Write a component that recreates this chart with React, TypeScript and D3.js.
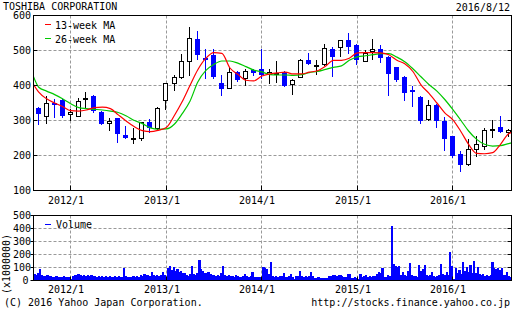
import React from 'react';
import * as d3 from 'd3';

const W = 523;
const H = 310;
const FONT = '"DejaVu Sans Mono", monospace';

const title = 'TOSHIBA CORPORATION';
const asOf = '2016/8/12';
const copyright = '(C) 2016 Yahoo Japan Corporation.';
const source = 'http://stocks.finance.yahoo.co.jp';
const legendMA13 = '13-week MA';
const legendMA26 = '26-week MA';
const legendVolume = 'Volume';
const volumeUnit = '(x1000000)';

const priceTicks = [100, 200, 300, 400, 500, 600];
const volumeTicks = [0, 100, 200, 300, 400, 500];
const yearLabels = ['2012/1', '2013/1', '2014/1', '2015/1', '2016/1'];

// Monthly candles, Sep 2011 .. Aug 2016
const candleOpen = [335, 311, 350, 360, 316, 311, 360, 369, 325, 291, 306, 260, 249, 248, 295, 277, 355, 405, 422, 467,
  534, 480, 487, 408, 390, 439, 419, 443, 446, 431, 435, 438, 401, 422, 474, 457, 460, 503, 506, 529,
  517, 468, 496, 505, 481, 452, 424, 387, 367, 301, 343, 300, 255, 203, 172, 217, 225, 271, 281, 265];
const candleClose = [318, 349, 344, 313, 324, 355, 363, 327, 291, 300, 262, 250, 250, 296, 280, 336, 406, 425, 471, 536,
  487, 475, 424, 391, 439, 415, 441, 437, 429, 439, 437, 399, 417, 474, 462, 459, 508, 482, 529, 511,
  472, 493, 503, 479, 433, 417, 378, 382, 298, 343, 298, 248, 198, 172, 220, 234, 274, 277, 267, 274];
const candleHigh = [338, 371, 362, 362, 334, 365, 382, 372, 327, 308, 308, 284, 279, 297, 303, 338, 408, 431, 489, 568,
  557, 505, 505, 431, 452, 441, 446, 448, 505, 446, 471, 441, 420, 476, 493, 474, 520, 511, 531, 549,
  520, 500, 534, 517, 483, 454, 427, 400, 370, 360, 346, 310, 257, 212, 248, 255, 278, 301, 312, 276];
const candleLow = [287, 291, 306, 307, 300, 309, 333, 322, 287, 269, 236, 248, 233, 241, 263, 271, 329, 384, 420, 427,
  472, 419, 420, 371, 389, 410, 400, 427, 419, 405, 408, 396, 374, 421, 458, 431, 457, 424, 481, 491,
  458, 466, 474, 465, 371, 410, 357, 338, 290, 298, 278, 212, 192, 152, 170, 195, 215, 251, 264, 253];

// Moving averages: 2011/8/12, then each month start Sep 2011 .. Aug 2016, then 2016/8/12
const ma13 = [403, 381, 362, 350, 340, 328, 327, 330, 337, 338, 334, 316, 298, 282, 271, 268, 272, 280, 315, 352, 400,
  445, 478, 494, 492, 450, 432, 415, 413, 427, 433, 436, 438, 433, 433, 438, 442, 455, 472, 472, 478,
  493, 494, 494, 493, 488, 472, 462, 440, 402, 378, 350, 322, 302, 268, 232, 206, 205, 208, 232, 262, 266];
const ma26 = [425, 395, 384, 374, 362, 348, 337, 334, 332, 330, 327, 323, 313, 300, 291, 279, 275, 276, 290, 318, 355,
  410, 443, 460, 470, 470, 464, 454, 444, 439, 431, 430, 430, 429, 431, 437, 440, 446, 452, 456, 472,
  482, 485, 488, 491, 491, 481, 468, 448, 425, 403, 384, 360, 331, 300, 270, 246, 232, 227, 228, 234, 236];

// Weekly volume (x1,000,000) from 2011/8/12
const weeklyVolume = [50, 45, 55, 88, 42, 38, 35, 40, 36, 33,
  30, 28, 32, 27, 30, 26, 34, 28, 25, 30,
  8, 38, 45, 40, 48, 42, 38, 44, 35, 40,
  36, 42, 34, 38, 30, 33, 28, 36, 30, 34,
  28, 32, 26, 30, 34, 28, 31, 27, 30, 95,
  35, 28, 30, 26, 32, 28, 33, 30, 42, 38,
  48, 40, 45, 38, 65, 40, 36, 42, 38, 45,
  65, 40, 12, 95, 115, 80, 105, 70, 85, 65,
  75, 55, 60, 45, 38, 50, 115, 48, 42, 55,
  155, 90, 70, 60, 58, 65, 48, 40, 45, 36,
  42, 38, 60, 108, 45, 35, 40, 32, 36, 30,
  42, 38, 30, 28, 35, 50, 32, 28, 34, 62,
  30, 25, 28, 24, 10, 105, 100, 92, 50, 140,
  36, 30, 34, 28, 32, 36, 58, 30, 28, 32,
  50, 30, 12, 32, 34, 75, 36, 30, 34, 28,
  38, 68, 32, 22, 20, 24, 18, 22, 16, 20,
  22, 38, 34, 42, 46, 36, 40, 44, 32, 26,
  28, 50, 48, 22, 18, 24, 20, 8, 48, 28,
  34, 44, 30, 38, 28, 32, 36, 50, 68, 55,
  95, 30, 28, 42, 34, 422, 125, 110, 104, 112,
  45, 65, 40, 35, 70, 135, 40, 32, 36, 30,
  122, 75, 90, 122, 40, 35, 44, 62, 36, 30,
  34, 45, 128, 48, 42, 62, 45, 218, 115, 15,
  95, 55, 78, 50, 145, 70, 104, 65, 117, 60,
  150, 55, 104, 48, 40, 52, 36, 44, 38, 42,
  143, 95, 85, 100, 80, 98, 45, 40, 62, 35,
  28];

const GRID = '#999999';
const BLUE = '#0000ff';
const RED = '#ff0000';
const GREEN = '#00c800';

export default function App() {
  const start = new Date(2011, 7, 12);
  const end = new Date(2016, 7, 12);
  const left = 33.5;
  const right = 511.5;
  const x = d3.scaleTime().domain([start, end]).range([left, right]);
  const yP = d3.scaleLinear().domain([100, 600]).range([190.5, 15.5]);
  const yV = d3.scaleLinear().domain([0, 500]).range([280.5, 215.5]);

  const months = d3.timeMonth.range(new Date(2011, 8, 1), new Date(2016, 8, 1));
  const maDates = [start, ...months, end];
  const years = yearLabels.map((s) => {
    const [yy, mm] = s.split('/').map(Number);
    return new Date(yy, mm - 1, 1);
  });
  const gx = (d: Date) => Math.floor(x(d)) + 0.5;

  const maLine = d3
    .line<number>()
    .x((_, i) => x(maDates[i]))
    .y((d) => yP(d))
    .curve(d3.curveMonotoneX);

  const pTop = yP(600);
  const pBot = yP(100);
  const vTop = yV(500);
  const vBot = yV(0);

  const textStyle = { fontFamily: FONT, fontSize: 10, fill: '#000' } as const;

  return (
    <svg
      width={W}
      height={H}
      viewBox={`0 0 ${W} ${H}`}
      style={{ position: 'absolute', left: 0, top: 0, background: '#fff' }}
    >
      <defs>
        <clipPath id="pclip">
          <rect x={left} y={pTop} width={right - left} height={pBot - pTop} />
        </clipPath>
        <clipPath id="vclip">
          <rect x={left} y={vTop} width={right - left} height={vBot - vTop} />
        </clipPath>
      </defs>
      <rect x={0} y={0} width={W} height={H} fill="#fff" />

      <text x={3} y={10} style={textStyle}>{title}</text>
      <text x={510} y={10.5} textAnchor="end" style={textStyle}>{asOf}</text>

      {/* ===== price panel ===== */}
      <g>
        {priceTicks.filter((t) => t > 100 && t < 600).map((t) => (
          <line key={'pg' + t} x1={left} x2={right} y1={yP(t)} y2={yP(t)} stroke={GRID} strokeDasharray="3,2" />
        ))}
        {years.map((d, i) => (
          <line key={'pyg' + i} x1={gx(d)} x2={gx(d)} y1={pTop} y2={pBot} stroke={GRID} strokeDasharray="3,2" />
        ))}
      </g>

      <g clipPath="url(#pclip)" shapeRendering="crispEdges">
        {months.map((m, i) => {
          const o = candleOpen[i];
          const c = candleClose[i];
          const up = c >= o;
          const cx = Math.round(x(m)) - 1;
          const top = Math.round(yP(Math.max(o, c)));
          const bot = Math.max(top + 2, Math.round(yP(Math.min(o, c))));
          const col = up ? '#000' : BLUE;
          return (
            <g key={'c' + i}>
              <line
                x1={cx + 0.5}
                x2={cx + 0.5}
                y1={Math.round(yP(candleHigh[i]))}
                y2={Math.round(yP(candleLow[i]))}
                stroke={col}
                strokeWidth={1}
              />
              {up ? (
                <rect x={cx - 1.5} y={top + 0.5} width={4} height={bot - top - 1} fill="#fff" stroke="#000" strokeWidth={1} />
              ) : (
                <rect x={cx - 2} y={top} width={5} height={bot - top} fill={BLUE} />
              )}
            </g>
          );
        })}
      </g>

      <g clipPath="url(#pclip)">
        <path d={maLine(ma26) || ''} fill="none" stroke={GREEN} strokeWidth={1.2} />
        <path d={maLine(ma13) || ''} fill="none" stroke={RED} strokeWidth={1.2} />
      </g>

      {/* legend */}
      <line x1={45} x2={51} y1={24.5} y2={24.5} stroke={RED} strokeWidth={1} />
      <text x={55} y={29} style={textStyle}>{legendMA13}</text>
      <line x1={45} x2={51} y1={38.5} y2={38.5} stroke={GREEN} strokeWidth={1} />
      <text x={55} y={43} style={textStyle}>{legendMA26}</text>

      {/* price axes */}
      <rect x={left} y={pTop} width={right - left} height={pBot - pTop} fill="none" stroke="#000" strokeWidth={1} />
      {priceTicks.map((t) => (
        <g key={'pt' + t}>
          <line x1={left} x2={left + 4} y1={yP(t)} y2={yP(t)} stroke="#000" />
          <line x1={right - 4} x2={right} y1={yP(t)} y2={yP(t)} stroke="#000" />
          <text x={31} y={yP(t) + 3.5} textAnchor="end" style={textStyle}>{t}</text>
        </g>
      ))}
      {years.map((d, i) => (
        <g key={'px' + i}>
          <line x1={gx(d)} x2={gx(d)} y1={pBot - 5} y2={pBot} stroke="#000" />
          <text x={gx(d) - 4.5} y={203.5} textAnchor="middle" style={textStyle}>{yearLabels[i]}</text>
        </g>
      ))}

      {/* ===== volume panel ===== */}
      <g>
        {volumeTicks.filter((t) => t > 0 && t < 500).map((t) => (
          <line key={'vg' + t} x1={left} x2={right} y1={yV(t)} y2={yV(t)} stroke={GRID} strokeDasharray="3,2" />
        ))}
        {years.map((d, i) => (
          <line key={'vyg' + i} x1={gx(d)} x2={gx(d)} y1={vTop} y2={vBot} stroke={GRID} strokeDasharray="3,2" />
        ))}
      </g>
      <g clipPath="url(#vclip)" shapeRendering="crispEdges">
        {weeklyVolume.map((v, i) => {
          const d0 = d3.timeDay.offset(start, 7 * i);
          const d1raw = d3.timeDay.offset(start, 7 * (i + 1));
          const d1 = d1raw > end ? end : d1raw;
          const x0 = x(d0);
          const x1 = x(d1);
          return (
            <rect key={'v' + i} x={x0} y={yV(v)} width={Math.max(0.5, x1 - x0 + 0.4)} height={vBot - yV(v)} fill={BLUE} />
          );
        })}
      </g>
      <line x1={45} x2={51} y1={224.5} y2={224.5} stroke={BLUE} strokeWidth={1} />
      <text x={56} y={228.3} style={textStyle}>{legendVolume}</text>

      <rect x={left} y={vTop} width={right - left} height={vBot - vTop} fill="none" stroke="#000" strokeWidth={1} />
      {volumeTicks.map((t) => (
        <g key={'vt' + t}>
          <line x1={left - 3} x2={left} y1={yV(t)} y2={yV(t)} stroke="#000" />
          <line x1={right - 4} x2={right} y1={yV(t)} y2={yV(t)} stroke="#000" />
          <text x={t === 0 ? 28.5 : 31} y={yV(t) + 3.5} textAnchor="end" style={textStyle}>{t}</text>
        </g>
      ))}
      {years.map((d, i) => (
        <g key={'vx' + i}>
          <line x1={gx(d)} x2={gx(d)} y1={vBot - 4} y2={vBot} stroke="#000" />
          <text x={gx(d) - 4.5} y={293} textAnchor="middle" style={textStyle}>{yearLabels[i]}</text>
        </g>
      ))}
      <text
        transform="translate(9.5,264) rotate(-90)"
        textAnchor="middle"
        style={textStyle}
      >
        {volumeUnit}
      </text>

      <text x={4} y={305.5} style={textStyle}>{copyright}</text>
      <text x={510} y={305.5} textAnchor="end" style={textStyle}>{source}</text>
    </svg>
  );
}
